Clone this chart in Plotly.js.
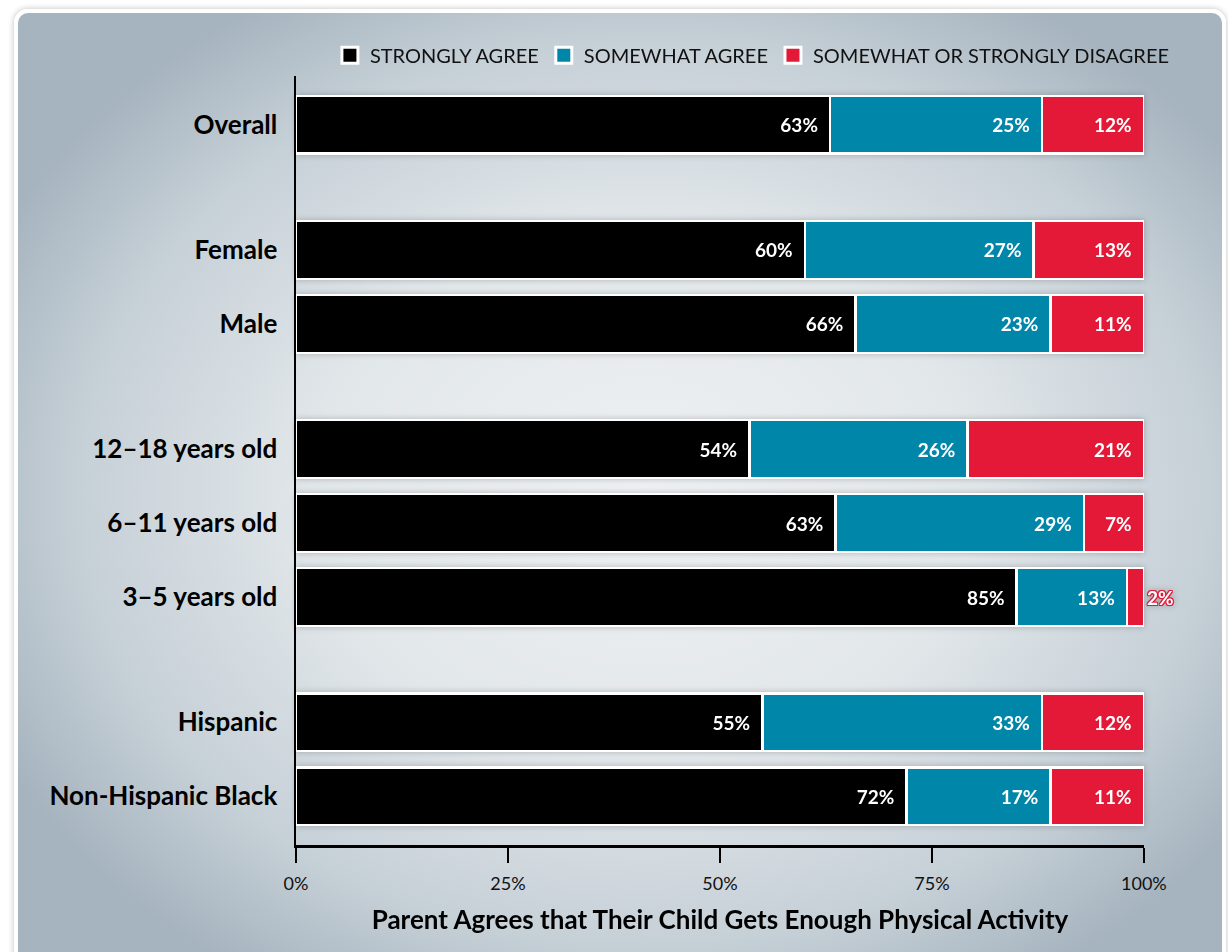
<!DOCTYPE html>
<html>
<head>
<meta charset="utf-8">
<script src="https://cdn.plot.ly/plotly-3.0.1.min.js"></script>
<style>
  html, body { margin: 0; padding: 0; background: #ffffff; width: 1228px; height: 952px; overflow: hidden; }
  #panel {
    position: absolute; left: 14px; top: 9px; width: 1204px; height: 960px;
    border: 4px solid #ffffff; border-radius: 14px;
    box-shadow: 0 0 6px rgba(0,0,0,0.25);
    background: radial-gradient(ellipse 60% 60% at 52% 50%, #eef1f3 0%, #e2e7ea 45%, #c6d0d7 78%, #a6b4bf 100%);
  }
  #chart { position: absolute; left: 0; top: 0; width: 1228px; height: 952px; }
  .barlayer { filter: drop-shadow(0 0 3px rgba(0,0,0,0.22)); }
</style>
</head>
<body>
<div id="panel"></div>
<div id="chart"></div>
<script>
// ---- data ----
const categories = ['Overall', 'Female', 'Male', '12–18 years old', '6–11 years old', '3–5 years old', 'Hispanic', 'Non-Hispanic Black'];
const groupOf = [0, 1, 1, 2, 2, 2, 3, 3];
const stronglyAgree = [63, 60, 66, 54, 63, 85, 55, 72];
const somewhatAgree = [25, 27, 23, 26, 29, 13, 33, 17];
const disagree = [12, 13, 11, 21, 7, 2, 12, 11];
const seriesNames = ['STRONGLY AGREE', 'SOMEWHAT AGREE', 'SOMEWHAT OR STRONGLY DISAGREE'];
const xTickVals = [0, 25, 50, 75, 100];
const xTickText = ['0%', '25%', '50%', '75%', '100%'];

// ---- layout helpers ----
const GROUP_GAP = 0.69;
const rowPos = categories.map((c, i) => i + groupOf[i] * GROUP_GAP);
const colors = ['#000000', '#0086a9', '#e31937'];
const FONT = 'Lato, "Open Sans", sans-serif';
const PAD = '\u00a0\u00a0';

function makeTrace(vals, idx) {
  const t = {
    type: 'bar',
    orientation: 'h',
    name: seriesNames[idx],
    showlegend: false,
    y: rowPos,
    x: vals,
    width: 0.78,
    marker: { color: colors[idx], line: { color: '#ffffff', width: 2.5 } },
    text: vals.map(v => v + '%' + (v >= 5 ? PAD : '')),
    texttemplate: '%{text}',
    textposition: vals.map(v => v >= 5 ? 'inside' : 'outside'),
    insidetextanchor: 'end',
    textangle: 0,
    constraintext: 'none',
    textfont: { family: FONT, size: 19, color: '#ffffff', weight: 700 },
    hoverinfo: 'name+text'
  };
  if (idx === 2) {
    t.cliponaxis = false;
    t.textfont.shadow = '1px 1px 0 #e31937, -1px -1px 0 #e31937, 1px -1px 0 #e31937, -1px 1px 0 #e31937, 0 1px 0 #e31937, 0 -1px 0 #e31937, 1px 0 0 #e31937, -1px 0 0 #e31937';
  }
  return t;
}
function legendTrace(idx) {
  return {
    type: 'scatter', mode: 'markers',
    name: seriesNames[idx],
    x: [null], y: [null], showlegend: true, hoverinfo: 'skip',
    marker: { symbol: 'square', size: 16, color: colors[idx], line: { color: '#ffffff', width: 3 } }
  };
}

const data = [makeTrace(stronglyAgree, 0), makeTrace(somewhatAgree, 1), makeTrace(disagree, 2),
              legendTrace(0), legendTrace(1), legendTrace(2)];

const layout = {
  width: 1228, height: 952,
  margin: { l: 296, r: 84, t: 76, b: 107, pad: 0 },
  paper_bgcolor: 'rgba(0,0,0,0)',
  plot_bgcolor: 'rgba(0,0,0,0)',
  barmode: 'stack',
  barnorm: 'percent',
  bargap: 0,
  font: { family: FONT, color: '#000000' },
  showlegend: true,
  legend: {
    orientation: 'h', x: 0.04, xanchor: 'left', y: 1.027, yanchor: 'middle',
    font: { family: FONT, size: 20, color: '#111111' },
    traceorder: 'normal', bgcolor: 'rgba(0,0,0,0)'
  },
  xaxis: {
    range: [0, 100.01],
    tickvals: xTickVals, ticktext: xTickText,
    showgrid: false, zeroline: false,
    showline: true, linecolor: '#000000', linewidth: 3,
    ticks: 'outside', ticklen: 15, tickwidth: 2.5, tickcolor: '#000000',
    ticklabelstandoff: 5,
    tickfont: { family: FONT, size: 18, color: '#111111' },
    title: { text: 'Parent Agrees that Their Child Gets Enough Physical Activity', standoff: 19,
             font: { family: FONT, size: 26, color: '#000000', weight: 700 } },
    fixedrange: true
  },
  yaxis: {
    range: [9.73, -0.66],
    tickvals: rowPos, ticktext: categories,
    showgrid: false, zeroline: false,
    showline: true, linecolor: '#000000', linewidth: 2.5,
    ticks: '', ticklabelstandoff: 11,
    tickfont: { family: FONT, size: 26, color: '#000000', weight: 700 },
    fixedrange: true
  }
};

Plotly.newPlot('chart', data, layout, { displayModeBar: false, staticPlot: true });
</script>
</body>
</html>
